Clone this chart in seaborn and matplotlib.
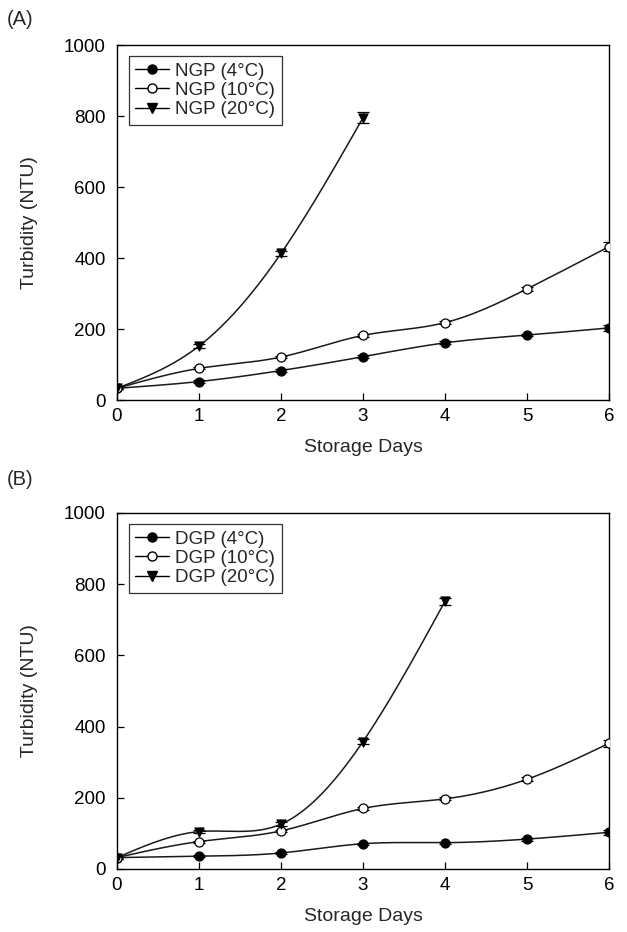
import numpy as np
import pandas as pd
import matplotlib
matplotlib.use("Agg")
import matplotlib.pyplot as plt
import seaborn as sns
from matplotlib.lines import Line2D

sns.set_style("white")
plt.rcParams['font.family'] = ['Liberation Sans', 'DejaVu Sans']

days = [0, 1, 2, 3, 4, 5, 6]
days20_A = [0, 1, 2, 3]
days20_B = [0, 1, 2, 3, 4]

ngp_4 = [33, 52, 83, 122, 161, 183, 203]
ngp_10 = [33, 89, 121, 182, 218, 313, 432]
ngp_20 = [33, 152, 413, 795]
ngp_4_err = [3, 3, 3, 4, 4, 4, 8]
ngp_10_err = [3, 3, 3, 4, 5, 5, 12]
ngp_20_err = [3, 6, 6, 15]

dgp_4 = [32, 36, 45, 71, 74, 84, 103]
dgp_10 = [32, 77, 107, 170, 197, 252, 353]
dgp_20 = [32, 105, 126, 358, 752]
dgp_4_err = [3, 3, 3, 3, 3, 4, 7]
dgp_10_err = [3, 3, 3, 4, 4, 6, 10]
dgp_20_err = [3, 5, 6, 8, 10]


def natural_spline(x, y, n=200):
    x = np.asarray(x, float); y = np.asarray(y, float)
    k = len(x)
    h = np.diff(x)
    A = np.zeros((k, k)); b = np.zeros(k)
    A[0, 0] = 1; A[-1, -1] = 1
    for i in range(1, k - 1):
        A[i, i - 1] = h[i - 1]
        A[i, i] = 2 * (h[i - 1] + h[i])
        A[i, i + 1] = h[i]
        b[i] = 3 * ((y[i + 1] - y[i]) / h[i] - (y[i] - y[i - 1]) / h[i - 1])
    c = np.linalg.solve(A, b)
    xs = np.linspace(x[0], x[-1], n)
    ys = np.empty_like(xs)
    for j, xv in enumerate(xs):
        i = min(np.searchsorted(x, xv, side='right') - 1, k - 2)
        dx = xv - x[i]
        bi = (y[i + 1] - y[i]) / h[i] - h[i] * (2 * c[i] + c[i + 1]) / 3
        di = (c[i + 1] - c[i]) / (3 * h[i])
        ys[j] = y[i] + bi * dx + c[i] * dx ** 2 + di * dx ** 3
    return xs, ys


fig = plt.figure(figsize=(6.27, 9.32), dpi=100)
axA = fig.add_axes([0.1866, 0.5708, 0.7847, 0.3809])
axB = fig.add_axes([0.1866, 0.0676, 0.7847, 0.3820])

FS = 13.5


def draw(ax, prefix, series):
    handles = []
    for label, x, y, err, marker, face in series:
        xs, ys = natural_spline(x, y)
        sns.lineplot(x=xs, y=ys, ax=ax, color='#1a1a1a', linewidth=1.1,
                     estimator=None, sort=False, legend=False)
        ax.errorbar(x, y, yerr=err, fmt='none', ecolor='black', elinewidth=0.9,
                    capsize=4, capthick=0.9, zorder=3)
        df = pd.DataFrame({'x': x, 'y': y})
        sns.scatterplot(data=df, x='x', y='y', ax=ax, marker=marker, s=42,
                        facecolor=face, edgecolor='black', linewidth=0.9,
                        zorder=4, legend=False)
        handles.append(Line2D([], [], color='black', linewidth=1.0, marker=marker,
                              markersize=6.5, markerfacecolor=face,
                              markeredgecolor='black', label=f"{prefix} ({label})"))
    ax.set_xlim(0, 6)
    ax.set_ylim(0, 1000)
    ax.set_xticks(range(7))
    ax.set_yticks(range(0, 1001, 200))
    ax.tick_params(direction='in', length=5, width=0.9, labelsize=FS, pad=8,
                   bottom=True, left=True, top=False, right=False, colors='black')
    ax.tick_params(axis='x', pad=6)
    for sp in ax.spines.values():
        sp.set_visible(True)
        sp.set_color('black')
        sp.set_linewidth(1.0)
    ax.set_xlabel('Storage Days', fontsize=FS + 0.5, labelpad=10)
    ax.set_ylabel('Turbidity (NTU)', fontsize=FS + 0.5, labelpad=19)
    leg = ax.legend(handles=handles, loc='upper left', bbox_to_anchor=(0.012, 0.985),
                    fontsize=FS, frameon=True, fancybox=False, handlelength=1.8,
                    handletextpad=0.35, labelspacing=0.12, borderpad=0.35,
                    borderaxespad=0.3)
    leg.get_frame().set_edgecolor('black')
    leg.get_frame().set_linewidth(0.9)


draw(axA, 'NGP', [
    ('4°C', days, ngp_4, ngp_4_err, 'o', 'black'),
    ('10°C', days, ngp_10, ngp_10_err, 'o', 'white'),
    ('20°C', days20_A, ngp_20, ngp_20_err, 'v', 'black'),
])
draw(axB, 'DGP', [
    ('4°C', days, dgp_4, dgp_4_err, 'o', 'black'),
    ('10°C', days, dgp_10, dgp_10_err, 'o', 'white'),
    ('20°C', days20_B, dgp_20, dgp_20_err, 'v', 'black'),
])

fig.text(0.010, 0.979, '(A)', fontsize=FS + 1, va='center', ha='left')
fig.text(0.010, 0.485, '(B)', fontsize=FS + 1, va='center', ha='left')

fig.savefig('out.png', dpi=100)
